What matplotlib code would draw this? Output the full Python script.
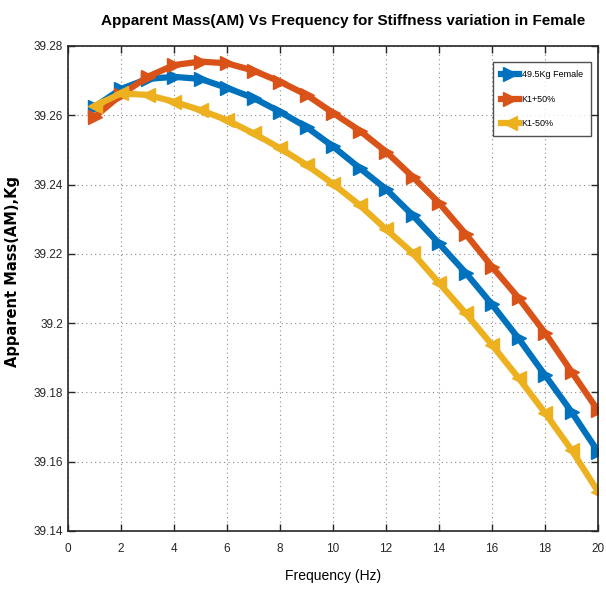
import matplotlib
matplotlib.use("Agg")
import matplotlib.pyplot as plt

# frequency (Hz)
freq = list(range(1, 21))

# apparent mass (Kg)
am_female = [39.2624, 39.2676, 39.2705, 39.2711, 39.2705, 39.2679, 39.2650, 39.2610,
             39.2566, 39.2510, 39.2448, 39.2387, 39.2312, 39.2230, 39.2146, 39.2054,
             39.1956, 39.1850, 39.1744, 39.1629]
am_k1_plus = [39.2595, 39.2659, 39.2711, 39.2745, 39.2755, 39.2750, 39.2729, 39.2697,
              39.2659, 39.2607, 39.2556, 39.2495, 39.2423, 39.2347, 39.2258, 39.2163,
              39.2073, 39.1972, 39.1860, 39.1748]
am_k1_minus = [39.2627, 39.2663, 39.2659, 39.2639, 39.2615, 39.2586, 39.2548, 39.2505,
               39.2457, 39.2402, 39.2341, 39.2271, 39.2203, 39.2116, 39.2029, 39.1937,
               39.1842, 39.1741, 39.1634, 39.1514]

labels = ["49.5Kg Female", "K1+50%", "K1-50%"]
xticks = list(range(0, 21, 2))
yticks = [39.14, 39.16, 39.18, 39.2, 39.22, 39.24, 39.26, 39.28]
ytick_labels = ["39.14", "39.16", "39.18", "39.2", "39.22", "39.24", "39.26", "39.28"]

narrow = ["Liberation Sans", "DejaVu Sans"]

fig = plt.figure(figsize=(6.06, 5.97), dpi=100)
ax = fig.add_axes([68 / 606, 1 - 531 / 597, 530 / 606, 485 / 597])

ax.plot(freq, am_female, color="#0072BD", lw=4.5, marker=">", ms=10, label=labels[0])
ax.plot(freq, am_k1_plus, color="#D95319", lw=4.5, marker=">", ms=10, label=labels[1])
ax.plot(freq, am_k1_minus, color="#EDB120", lw=4.5, marker="<", ms=10, label=labels[2])

ax.set_xlim(0, 20)
ax.set_ylim(39.14, 39.28)
ax.set_xticks(xticks)
ax.set_xticklabels([str(t) for t in xticks], family=narrow, fontsize=8.5)
ax.set_yticks(yticks)
ax.set_yticklabels(ytick_labels, family=narrow, fontsize=8.5)
ax.tick_params(axis="x", pad=9)
ax.tick_params(direction="in", top=True, right=True, length=5, width=1, colors="#262626")
ax.grid(True, linestyle=(0, (1, 3)), color="#8a8a8a", lw=0.8)
for s in ax.spines.values():
    s.set_linewidth(1.2)
    s.set_color("#262626")

ax.set_title("Apparent Mass(AM) Vs Frequency for Stiffness variation in Female",
             family=narrow, fontsize=11, fontweight="bold", pad=15, x=0.52)
ax.set_xlabel("Frequency (Hz)", family=narrow, fontsize=10, labelpad=10)
ax.set_ylabel("Apparent Mass(AM),Kg", family=["DejaVu Sans"], fontsize=10.5,
              fontweight="bold")
ax.yaxis.set_label_coords(-0.09, 0.536)

leg = ax.legend(loc="upper right", bbox_to_anchor=(0.99, 0.97), prop={"family": narrow, "size": 6.5},
                fancybox=False, edgecolor="#262626", handlelength=2.0, borderpad=0.9,
                labelspacing=1.7, handletextpad=0.3, borderaxespad=0.2)
leg.get_frame().set_linewidth(1.0)

fig.savefig("out.png", dpi=100)
